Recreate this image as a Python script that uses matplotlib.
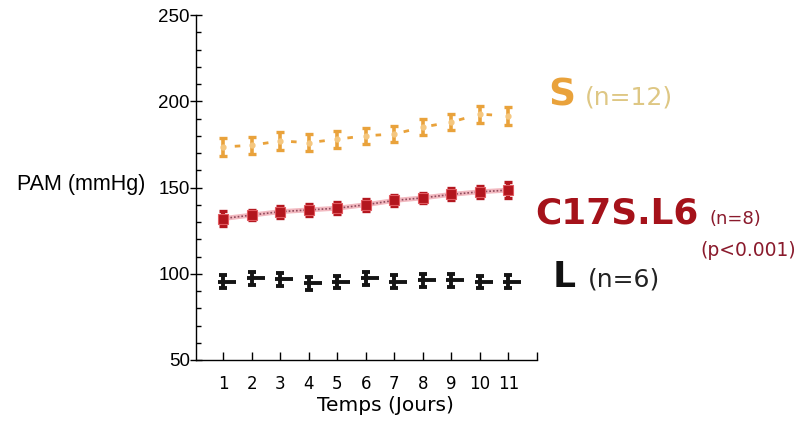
import matplotlib
matplotlib.use("Agg")
import matplotlib.pyplot as plt
from matplotlib.path import Path
import numpy as np

# ---- data ----
days = [1, 2, 3, 4, 5, 6, 7, 8, 9, 10, 11]
s_mean = [173.5, 174.5, 177, 176, 178, 180, 181, 185, 188, 192.5, 191.5]
s_err = [5, 5, 5, 5, 5, 4.5, 4.5, 4.5, 4.5, 5, 5]
c17_mean = [132, 134, 136, 137, 138, 140, 142.5, 144, 146, 147.5, 148.5]
c17_err = [4.5, 3, 3.5, 3.5, 3.5, 3.5, 3, 3, 3.5, 3.5, 4.5]
l_mean = [95.5, 97.3, 96.7, 94.4, 95, 97.3, 95.5, 96.1, 96.1, 95, 95.5]
l_err = [4, 4, 4, 4, 3.5, 4, 4, 4, 4, 3.5, 4]
xtick_pos = [1, 2, 3, 4, 5, 6, 7, 8, 9, 10, 11, 12]
xtick_labels = ['1', '2', '3', '4', '5', '6', '7', '8', '9', '10', '11', '']
ytick_pos = [50, 100, 150, 200, 250]

ORANGE = '#E9A23B'
RED = '#B3161E'

fig = plt.figure(figsize=(8.04, 4.21), dpi=100)
ax = fig.add_axes([196 / 804, 1 - 360 / 421, (537 - 196) / 804, (360 - 15) / 421])

# S series
ax.plot(days, s_mean, color=ORANGE, lw=2, linestyle=(6.0, (2.0, 8.2)), zorder=2)
ax.errorbar(days, s_mean, yerr=s_err, fmt='none', ecolor=ORANGE, elinewidth=2.6,
            capsize=3.2, capthick=2.4, zorder=3)
ax.plot(days, s_mean, linestyle='none', marker='o', ms=3.5, color='#F5C77F', zorder=4)

# C17S.L6 series
ax.plot(days, c17_mean, color='#F2B9C0', lw=3.5, zorder=2, solid_capstyle='butt')
ax.plot(days, c17_mean, color='#8E4A5C', lw=1.2, linestyle=(0, (1, 1.2)), zorder=2)
ax.errorbar(days, c17_mean, yerr=c17_err, fmt='none', ecolor=RED, elinewidth=3,
            capsize=3.2, capthick=2.4, zorder=3)
ax.plot(days, c17_mean, linestyle='none', marker='s', ms=6.5, color=RED,
        markeredgecolor='#E25A60', markeredgewidth=0.8, zorder=4)

# L series
dash = Path([(-0.35, 0), (1.0, 0)], [Path.MOVETO, Path.LINETO])
ax.errorbar(days, l_mean, yerr=l_err, fmt='none', ecolor='#151515', elinewidth=2.8,
            capsize=3.2, capthick=2.8, zorder=3)
ax.plot(days, l_mean, linestyle='none', marker=dash, ms=19, markeredgewidth=2.8,
        color='#151515', zorder=4)

ax.set_xlim(0.05, 12)
ax.set_ylim(50, 250)
ax.spines['top'].set_visible(False)
ax.spines['right'].set_visible(False)
ax.spines['left'].set_linewidth(1)
ax.spines['bottom'].set_linewidth(1)

ax.set_xticks(xtick_pos)
ax.set_xticklabels(xtick_labels, fontsize=12, family='DejaVu Sans')
ax.tick_params(axis='x', direction='in', length=6, width=1, pad=11)
ax.set_yticks(ytick_pos)
ax.set_yticklabels([str(v) for v in ytick_pos], fontsize=13.5, family='Liberation Sans')
ax.set_yticks(np.arange(50, 251, 10), minor=True)
ax.tick_params(axis='y', which='major', direction='inout', length=9, width=1, pad=0)
ax.tick_params(axis='y', which='minor', direction='in', length=3.5, width=1)

ax.set_xlabel('Temps (Jours)', fontsize=14.5, family='DejaVu Sans')
ax.xaxis.set_label_coords(0.555, -0.105)

fig.text(145 / 804, 1 - 190 / 421, 'PAM (mmHg)', ha='right', va='baseline',
         fontsize=15.5, family='Liberation Sans')

# Series labels
fig.text(548 / 804, 1 - 105 / 421, 'S', ha='left', va='baseline', fontsize=27,
         fontweight='bold', color=ORANGE, family='DejaVu Sans')
fig.text(585 / 804, 1 - 105 / 421, '(n=12)', ha='left', va='baseline', fontsize=18,
         color='#DEC784', family='DejaVu Sans')
fig.text(535 / 804, 1 - 223 / 421, 'C17S.L6', ha='left', va='baseline', fontsize=25.8,
         fontweight='bold', color='#A5121A', family='DejaVu Sans')
fig.text(710 / 804, 1 - 224 / 421, '(n=8)', ha='left', va='baseline', fontsize=13,
         color='#8A1A2C', family='DejaVu Sans')
fig.text(700 / 804, 1 - 256 / 421, '(p<0.001)', ha='left', va='baseline', fontsize=13.5,
         color='#8A1A2C', family='DejaVu Sans')
fig.text(553 / 804, 1 - 287 / 421, 'L', ha='left', va='baseline', fontsize=26,
         fontweight='bold', color='#111111', family='DejaVu Sans')
fig.text(588 / 804, 1 - 286 / 421, '(n=6)', ha='left', va='baseline', fontsize=18,
         color='#222222', family='DejaVu Sans')

fig.savefig('out.png', dpi=100)
